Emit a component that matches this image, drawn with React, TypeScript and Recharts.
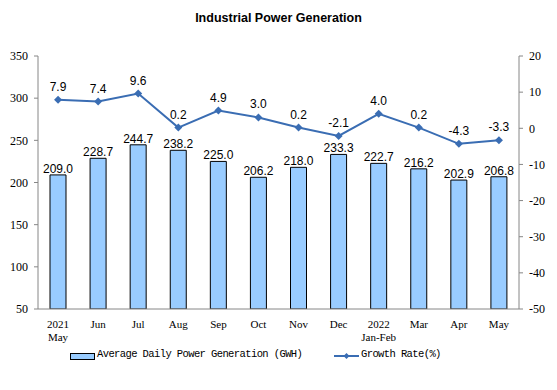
import React from "react";
import { ComposedChart, Bar, Line, XAxis, YAxis, LabelList } from "recharts";

const categories = ["May", "Jun", "Jul", "Aug", "Sep", "Oct", "Nov", "Dec", "Jan-Feb", "Mar", "Apr", "May"];
const yearLabels = ["2021", "", "", "", "", "", "", "", "2022", "", "", ""];
const generation = [209.0, 228.7, 244.7, 238.2, 225.0, 206.2, 218.0, 233.3, 222.7, 216.2, 202.9, 206.8];
const growth = [7.9, 7.4, 9.6, 0.2, 4.9, 3.0, 0.2, -2.1, 4.0, 0.2, -4.3, -3.3];
const leftTicks = [50, 100, 150, 200, 250, 300, 350];
const rightTicks = [-50, -40, -30, -20, -10, 0, 10, 20];
const boundaryTicks = [0, 1, 2, 3, 4, 5, 6, 7, 8, 9, 10, 11, 12];

const data = categories.map((c, i) => ({
  key: i,
  month: c,
  year: yearLabels[i],
  gen: generation[i],
  rate: growth[i],
}));

const BAR_COLOR = "#99CCFF";
const LINE_COLOR = "#3A6DB3";
const AXIS_COLOR = "#868686";

const CatTick = (props: any) => {
  const { x, y, payload } = props;
  const d = data[payload.value];
  if (!d) return null;
  const fs = { fontFamily: "'Liberation Serif', serif", fontSize: 11, fill: "#000" };
  if (d.year) {
    return (
      <g>
        <text x={x} y={y + 11} textAnchor="middle" {...fs}>{d.year}</text>
        <text x={x} y={y + 24} textAnchor="middle" {...fs}>{d.month}</text>
      </g>
    );
  }
  return (
    <text x={x} y={y + 11} textAnchor="middle" {...fs}>{d.month}</text>
  );
};

const LegendBox = () => (
  <div style={{ position: "absolute", left: 0, top: 348, width: 557, height: 20, fontFamily: "'Liberation Mono', monospace", fontSize: 10.5, letterSpacing: -0.6, color: "#000" }}>
    <div style={{ position: "absolute", left: 70, top: 5, width: 23, height: 5, background: BAR_COLOR, border: "1px solid #000" }} />
    <div style={{ position: "absolute", left: 97, top: 0, whiteSpace: "pre" }}>Average Daily Power Generation (GWH)</div>
    <svg style={{ position: "absolute", left: 334, top: 3 }} width={26} height={10}>
      <line x1={0} y1={5} x2={25} y2={5} stroke={LINE_COLOR} strokeWidth={2} />
      <polygon points="12.5,2 15.5,5 12.5,8 9.5,5" fill={LINE_COLOR} />
    </svg>
    <div style={{ position: "absolute", left: 361, top: 0, whiteSpace: "pre" }}>Growth Rate(%)</div>
  </div>
);

const Diamond = (props: any) => {
  const { cx, cy } = props;
  if (cx == null || cy == null) return null;
  return <polygon points={`${cx},${cy - 4} ${cx + 4},${cy} ${cx},${cy + 4} ${cx - 4},${cy}`} fill={LINE_COLOR} />;
};

export default function App() {
  return (
    <div style={{ position: "absolute", left: 0, top: 0, width: 557, height: 390, background: "#fff" }}>
      <div style={{ position: "absolute", left: 0, top: 11, width: 557, textAlign: "center", fontFamily: "'Liberation Sans', Arial, sans-serif", fontWeight: "bold", fontSize: 12.5, color: "#000" }}>
        Industrial Power Generation
      </div>
      <ComposedChart
        width={557}
        height={390}
        data={data}
        margin={{ top: 56, right: 0, bottom: 51, left: 0 }}
      >
        <XAxis
          xAxisId="b"
          type="number"
          dataKey="key"
          domain={[0, 12]}
          ticks={boundaryTicks}
          tick={false}
          tickSize={4}
          tickLine={{ stroke: AXIS_COLOR }}
          axisLine={{ stroke: AXIS_COLOR }}
          height={0}
          allowDataOverflow
        />
        <XAxis
          xAxisId="c"
          dataKey="key"
          type="category"
          tick={<CatTick />}
          tickLine={false}
          axisLine={{ stroke: AXIS_COLOR }}
          interval={0}
          height={30}
        />
        <YAxis
          yAxisId="l"
          orientation="left"
          domain={[50, 350]}
          ticks={leftTicks}
          width={38}
          tickSize={4}
          tickMargin={6}
          axisLine={{ stroke: AXIS_COLOR }}
          tickLine={{ stroke: AXIS_COLOR }}
          tick={{ fontFamily: "'Liberation Serif', serif", fontSize: 12, fill: "#000" }}
          allowDataOverflow
        />
        <YAxis
          yAxisId="r"
          orientation="right"
          domain={[-50, 20]}
          ticks={rightTicks}
          width={38}
          tickSize={4}
          tickMargin={6}
          axisLine={{ stroke: AXIS_COLOR }}
          tickLine={{ stroke: AXIS_COLOR }}
          tick={{ fontFamily: "'Liberation Serif', serif", fontSize: 12, fill: "#000" }}
          allowDataOverflow
        />
        <Bar
          xAxisId="c"
          yAxisId="l"
          dataKey="gen"
          fill={BAR_COLOR}
          stroke="#000"
          strokeWidth={1}
          barSize={16}
          isAnimationActive={false}
        >
          <LabelList
            dataKey="gen"
            position="top"
            offset={2}
            formatter={(v: any) => Number(v).toFixed(1)}
            style={{ fontFamily: "'Liberation Sans', Arial, sans-serif", fontSize: 12, fill: "#000" }}
          />
        </Bar>
        <Line
          xAxisId="c"
          yAxisId="r"
          dataKey="rate"
          stroke={LINE_COLOR}
          strokeWidth={2}
          dot={<Diamond />}
          activeDot={false}
          isAnimationActive={false}
        >
          <LabelList
            dataKey="rate"
            position="top"
            offset={9}
            formatter={(v: any) => Number(v).toFixed(1)}
            style={{ fontFamily: "'Liberation Sans', Arial, sans-serif", fontSize: 12, fill: "#000" }}
          />
        </Line>
      </ComposedChart>
      <LegendBox />
    </div>
  );
}
